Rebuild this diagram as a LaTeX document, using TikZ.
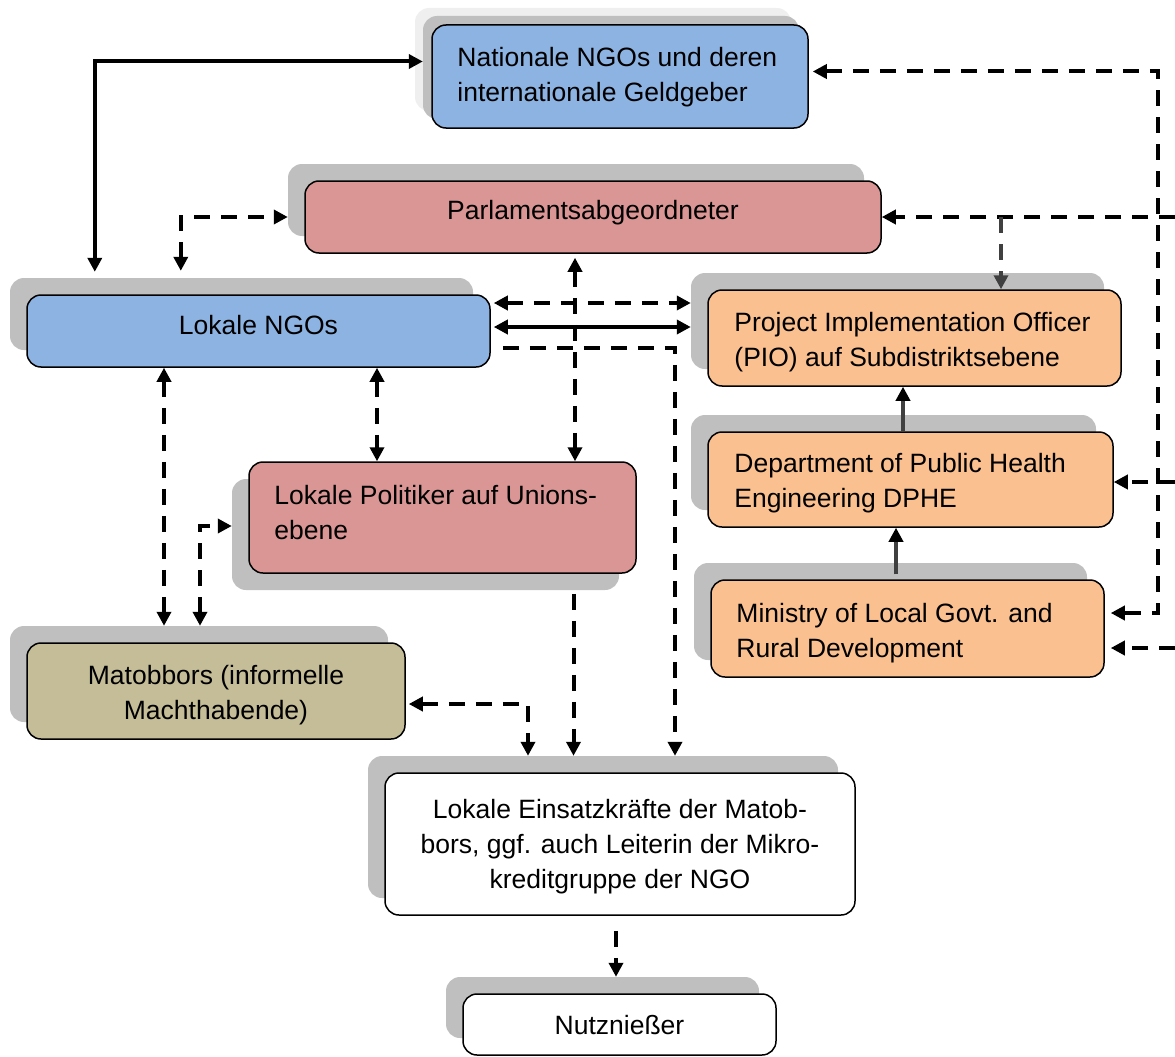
\documentclass[tikz,border=0pt]{standalone}
\usepackage{fontspec}
\setmainfont{Liberation Sans}
\usetikzlibrary{arrows.meta,calc}
\definecolor{cblue}{HTML}{8DB3E2}
\definecolor{cred}{HTML}{D99694}
\definecolor{corange}{HTML}{FAC090}
\definecolor{colive}{HTML}{C4BD97}
\definecolor{cshadow}{HTML}{BFBFBF}
\definecolor{clight}{HTML}{EFEFEF}
\definecolor{cgline}{HTML}{404040}
\tikzset{
  box/.style={draw=black, line width=1.5pt, rounded corners=14pt, inner sep=0pt},
  shbox/.style={fill=cshadow, rounded corners=14pt, inner sep=0pt},
  lshbox/.style={fill=clight, rounded corners=14pt, inner sep=0pt},
  txt/.style={inner sep=0pt, align=left, font=\fontsize{26.5}{35}\selectfont},
  txtc/.style={inner sep=0pt, align=center, font=\fontsize{26.5}{35}\selectfont},
  link/.style={line width=4pt, draw=black},
  dlink/.style={line width=4pt, draw=black, dash pattern=on 16pt off 11pt},
  glink/.style={line width=4pt, draw=cgline, -{Triangle[length=14pt,width=14pt,color=black]}},
  gdlink/.style={line width=4pt, draw=cgline, dash pattern=on 16pt off 11pt},
}
\begin{document}
\begin{tikzpicture}[x=1pt,y=-1pt,>={Triangle[length=14pt,width=14pt]}]
\useasboundingbox (0,0) rectangle (1175,1057);
% ---- boxes with shadows
\node[lshbox, minimum width=376pt, minimum height=103pt] (natL) at (603,59.5) {};
\node[shbox, minimum width=376pt, minimum height=103pt] (natS) at (611,67.5) {};
\node[box, fill=cblue, minimum width=376pt, minimum height=103pt] (nat) at (620,76.5) {};
\node[txt, anchor=west] (natT) at ([xshift=26pt,yshift=-1pt]nat.west) {Nationale NGOs und deren\\internationale Geldgeber};

\node[shbox, minimum width=576pt, minimum height=72pt] (parlS) at (576,200) {};
\node[box, fill=cred, minimum width=576pt, minimum height=72pt] (parl) at (593,217) {};
\node[txtc] (parlT) at ([yshift=4pt]parl.center) {Parlamentsabgeordneter};

\node[shbox, minimum width=463pt, minimum height=72pt] (lngoS) at (241.5,314) {};
\node[box, fill=cblue, minimum width=463pt, minimum height=72pt] (lngo) at (258.5,331) {};
\node[txtc] (lngoT) at ([yshift=6pt]lngo.center) {Lokale NGOs};

\node[shbox, minimum width=413pt, minimum height=96pt] (pioS) at (897.5,321) {};
\node[box, fill=corange, minimum width=413pt, minimum height=96pt] (pio) at (914.5,338) {};
\node[txt, anchor=west] (pioT) at ([xshift=27pt,yshift=-4.5pt]pio.west) {Project Implementation Officer\\(PIO) auf Subdistriktsebene};

\node[shbox, minimum width=405pt, minimum height=95pt] (dpheS) at (893.5,462.5) {};
\node[box, fill=corange, minimum width=405pt, minimum height=95pt] (dphe) at (910.5,479.5) {};
\node[txt, anchor=west] (dpheT) at ([xshift=27pt,yshift=-3.5pt]dphe.west) {Department of Public Health\\Engineering DPHE};

\node[shbox, minimum width=393pt, minimum height=97pt] (minS) at (890.5,611.5) {};
\node[box, fill=corange, minimum width=393pt, minimum height=97pt] (min) at (907.5,628.5) {};
\node[txt, anchor=west] (minT) at ([xshift=26pt,yshift=-5pt]min.west) {Ministry of Local Govt. and\\Rural Development};

\node[shbox, minimum width=387pt, minimum height=111pt] (lpolS) at (425.5,534.5) {};
\node[box, fill=cred, minimum width=387pt, minimum height=111pt] (lpol) at (442.5,517.5) {};
\node[txt, anchor=west] (lpolT) at ([xshift=26pt,yshift=5pt]lpol.west) {Lokale Politiker auf Unions-\\ebene};

\node[shbox, minimum width=378pt, minimum height=96pt] (matS) at (199,674) {};
\node[box, fill=colive, minimum width=378pt, minimum height=96pt] (mat) at (216,691) {};
\node[txtc] (matT) at ([yshift=-4pt]mat.center) {Matobbors (informelle\\Machthabende)};

\node[shbox, minimum width=470pt, minimum height=142pt] (einsS) at (603,827) {};
\node[box, fill=white, minimum width=470pt, minimum height=142pt] (eins) at (620,844) {};
\node[txtc] (einsT) at ([yshift=-3pt]eins.center) {Lokale Einsatzkräfte der Matob-\\bors, ggf. auch Leiterin der Mikro-\\kreditgruppe der NGO};

\node[shbox, minimum width=313pt, minimum height=61pt] (nutzS) at (602.5,1007.5) {};
\node[box, fill=white, minimum width=313pt, minimum height=61pt] (nutz) at (619.5,1024.5) {};
\node[txtc] (nutzT) at ([yshift=-1pt]nutz.center) {Nutznießer};

% ---- routing coordinates
\coordinate (edge) at (1175,0);
\coordinate (rail) at (1158,0);
\coordinate (s1) at ([xshift=85pt]lngoS.north west);
\coordinate (e1) at ([yshift=6pt]natS.west);
\coordinate (s2) at ([xshift=171pt]lngoS.north west);
\coordinate (e2) at ([yshift=-17pt]parlS.west);
\coordinate (s3) at ([xshift=-18pt]parl.south);
\coordinate (s4) at ([yshift=28pt]lngo.east);
\coordinate (s5) at ([yshift=4pt]lngo.east);
\coordinate (s6) at ([xshift=12pt,yshift=-17pt]lngo.east);
\coordinate (e6) at ([xshift=72pt]einsS.north);
\coordinate (s7) at ([xshift=-94.5pt]lngo.south);
\coordinate (s8) at ([xshift=118.5pt]lngo.south);
\coordinate (s9) at ([xshift=1pt]matS.north);
\coordinate (e9) at ([yshift=8.5pt]lpolS.west);
\coordinate (s10) at ([xshift=131pt,yshift=-20pt]lpol.south);
\coordinate (s11) at ([yshift=-13pt]mat.east);
\coordinate (e11) at ([xshift=-75pt]einsS.north);
\coordinate (s12) at ([xshift=-4pt,yshift=-15pt]eins.south);
\coordinate (s13) at ([xshift=-7.5pt]dphe.north);
\coordinate (s14) at ([xshift=-11.5pt,yshift=5pt]min.north);
\coordinate (n15) at ([yshift=5pt]nat.east);
\coordinate (m15) at ([yshift=15.5pt]min.east);
\coordinate (b16) at ([xshift=86.5pt]pio.north);
\coordinate (d17) at ([yshift=-2.5pt]dphe.east);
\coordinate (m18) at ([yshift=-19.5pt]min.east);

% ---- connectors
\draw[link,<->,shorten <=6pt] (s1) |- (e1);
\draw[dlink,<->,shorten <=7pt] (s2) |- (e2);
\draw[dlink,<->,shorten <=4pt] (s3) -- (s3 |- lpol.north);
\draw[dlink,<->,shorten <=3pt] (s4) -- (s4 -| pioS.west);
\draw[link,<->,shorten <=3pt] (s5) -- (s5 -| pioS.west);
\draw[dlink,->] (s6) -| (e6);
\draw[dlink,<->] (s7) -- (s7 |- matS.north);
\draw[dlink,<->] (s8) -- (s8 |- lpol.north);
\draw[dlink,<->] (s9) |- (e9);
\draw[dlink,->] (s10) -- (s10 |- einsS.north);
\draw[dlink,<->,shorten <=3pt] (s11) -| (e11);
\draw[dlink,->] (s12) -- (s12 |- nutzS.north);
\draw[glink] (s13) -- (s13 |- pio.south);
\draw[glink] (s14) -- (s14 |- dphe.south);
\draw[dlink,<->,shorten <=4pt,shorten >=6pt] (n15) -- (n15 -| rail) -- (m15 -| rail) -- (m15);
\draw[dlink,->] (parl.east -| edge) -- (parl.east);
\draw[gdlink,->] (b16 |- parl.east) -- (b16);
\draw[dlink,->] (d17 -| edge) -- (d17);
\draw[dlink,->,shorten >=6pt] (m18 -| edge) -- (m18);
\end{tikzpicture}
\end{document}
